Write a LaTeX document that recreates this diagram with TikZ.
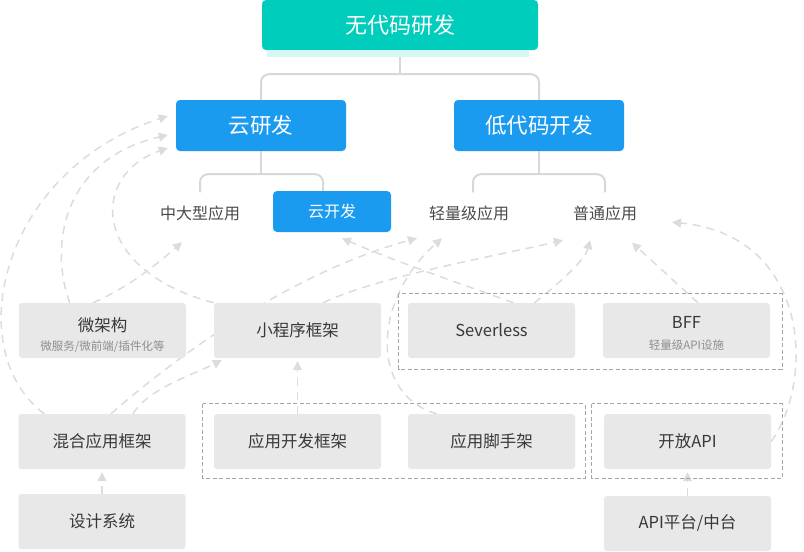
\documentclass[tikz,border=0pt]{standalone}
\usepackage{fontspec}
\newfontfamily\cjk{Noto Sans CJK SC}
\usetikzlibrary{arrows.meta,calc,backgrounds}

\definecolor{tealc}{HTML}{00CDBC}
\definecolor{shadowc}{HTML}{D6F7F3}
\definecolor{bluec}{HTML}{1B9BF0}
\definecolor{grayc}{HTML}{E8E8E8}
\definecolor{treec}{HTML}{D8D8DC}
\definecolor{flowc}{HTML}{DCDCDC}
\definecolor{framec}{HTML}{A6A6A6}
\definecolor{textdark}{HTML}{383838}
\definecolor{textmid}{HTML}{4A4A4A}
\definecolor{textsub}{HTML}{8F8F8F}

\tikzset{
  rootbox/.style={fill=tealc, rounded corners=4pt, text=white, inner sep=0pt,
    minimum width=276pt, minimum height=50pt, font=\cjk\fontsize{22}{26}\selectfont},
  bluenode/.style={fill=bluec, rounded corners=4pt, text=white, inner sep=0pt},
  leaf/.style={text=textmid, minimum height=41pt, inner sep=0pt, font=\cjk\fontsize{16}{20}\selectfont},
  graybox/.style={fill=grayc, rounded corners=3pt, minimum width=167pt, minimum height=55pt,
    inner sep=0pt, text=textdark, font=\cjk\fontsize{16.5}{20}\selectfont},
  boxtitle/.style={text=textdark, inner sep=0pt, font=\cjk\fontsize{16.5}{20}\selectfont},
  subtext/.style={text=textsub, inner sep=0pt, font=\cjk\fontsize{11.5}{14}\selectfont},
  treeline/.style={draw=treec, line width=2pt, rounded corners=8pt},
  flow/.style={draw=flowc, line width=1.5pt, dash pattern=on 8pt off 6pt,
    -{Triangle[length=9pt,width=9pt]}},
  groupbox/.style={draw=framec, line width=1.1pt, dash pattern=on 4pt off 2.5pt},
}

\begin{document}
\begin{tikzpicture}[x=1pt,y=-1pt]
  \useasboundingbox (0,0) rectangle (804,552);

  % Ebene 1
  \node[rootbox] (root) at (400,25) {无代码研发};
  \fill[shadowc] ($(root.south west)+(5,0)$) rectangle ($(root.south east)+(-9,7)$);

  % Ebene 2
  \node[bluenode, minimum width=170pt, minimum height=51pt, font=\cjk\fontsize{21.5}{26}\selectfont] (yun) at (261,125.5) {云研发};
  \node[bluenode, minimum width=170pt, minimum height=51pt, font=\cjk\fontsize{21.5}{26}\selectfont] (low) at (539,125.5) {低代码开发};

  % Ebene 3
  \node[leaf] (mid) at (200,213) {中大型应用};
  \node[bluenode, minimum width=118pt, minimum height=41pt, font=\cjk\fontsize{16}{20}\selectfont] (ykf) at (332,211.5) {云开发};
  \node[leaf] (light) at (469,213) {轻量级应用};
  \node[leaf] (norm) at (605,213) {普通应用};

  % Baum
  \draw[treeline] ($(root.south)+(0,7)$) -- ++(0,17);
  \draw[treeline] (yun.north) |- ($(root.south)+(0,24)$) -| (low.north);
  \draw[treeline] (yun.south) -- ++(0,23);
  \draw[treeline] (mid.north) |- ($(yun.south)+(0,23)$) -| ($(ykf.north)+(-9,0)$);
  \draw[treeline] (low.south) -- ++(0,23);
  \draw[treeline] ($(light.north)+(4,0)$) |- ($(low.south)+(0,23)$) -| (norm.north);

  % Kaesten
  \node[graybox] (micro) at (102.5,330.5) {};
  \node[boxtitle] (microtitle) at (102.5,325) {微架构};
  \node[subtext] (microsub) at (102.5,347) {微服务/微前端/插件化等};
  \node[graybox] (mini) at (297.5,330.5) {小程序框架};
  \node[graybox] (sls) at (491.5,330.5) {Severless};
  \node[graybox] (bff) at (686.5,330.5) {};
  \node[boxtitle] (bfftitle) at (686.5,322) {BFF};
  \node[subtext] (bffsub) at (686.5,345) {轻量级API设施};
  \node[graybox] (hybrid) at (102,441.5) {混合应用框架};
  \node[graybox] (appfw) at (297.5,441.5) {应用开发框架};
  \node[graybox] (scaff) at (491.5,441.5) {应用脚手架};
  \node[graybox] (openapi) at (687.5,441.5) {开放API};
  \node[graybox] (design) at (102,521.5) {设计系统};
  \node[graybox] (apiplat) at (687.5,523.5) {API平台/中台};

  % Gruppen
  \draw[groupbox] ($(sls.north west)+(-9,-9)$) rectangle ($(bff.south east)+(12,11)$);
  \draw[groupbox] ($(appfw.north west)+(-11,-10)$) rectangle ($(scaff.south east)+(10,9)$);
  \draw[groupbox] ($(openapi.north west)+(-12,-10)$) rectangle ($(openapi.south east)+(11,9)$);

  % Pfeile
  \begin{scope}[on background layer]
    \draw[flow, shorten >=3pt] (design) -- (hybrid);
    \draw[flow, shorten >=3pt] (apiplat) -- (openapi);
    \draw[flow, shorten >=3pt] (appfw) -- (mini);
    \draw[flow] ($(hybrid.north)+(31,0)$) .. controls +(15,-25) and +(-30,15) .. ($(mini.south west)+(8,2)$);
    \draw[flow] ($(hybrid.north west)+(26,0)$) .. controls +(-85,-64) and +(-167,54) .. ($(yun.west)+(-8,-9.5)$);
    \draw[flow] ($(micro.north west)+(51,0)$) .. controls +(-20,-53) and +(-108,25) .. ($(yun.west)+(-8,9.5)$);
    \draw[flow] (mini.north west) .. controls +(-124,-33) and +(-78,27) .. ($(yun.west)+(-8,22.5)$);
    \draw[flow] ($(micro.north west)+(74,0)$) .. controls +(35,-15) and +(-25,22) .. ($(mid.south)+(-18,8.5)$);
    \draw[flow] ($(hybrid.north)+(9,0)$) .. controls +(79,-69) and +(-117,32) .. ($(light.south)+(-52,4.5)$);
    \draw[flow] ($(mini.north)+(25.5,0)$) .. controls +(57,-27) and +(-63,15) .. ($(norm.south)+(-42,6.5)$);
    \draw[flow] ($(scaff.north west)+(29,0)$) .. controls +(-67,-19) and +(-70,62) .. ($(light.south)+(-27,4.5)$);
    \draw[flow] ($(sls.north)+(22,0)$) .. controls +(-50,-18) and +(50,22) .. ($(ykf.south)+(10,6)$);
    \draw[flow] ($(sls.north)+(43,0)$) .. controls +(25,-20) and +(-5,20) .. ($(norm.south)+(-15,6.5)$);
    \draw[flow] ($(bff.north)+(11.5,0)$) -- ($(norm.south)+(27,9)$);
    \draw[flow] (openapi.east) .. controls +(44,-61.5) and +(138,13) .. ($(norm.south)+(67,-11.5)$);
  \end{scope}
\end{tikzpicture}
\end{document}
